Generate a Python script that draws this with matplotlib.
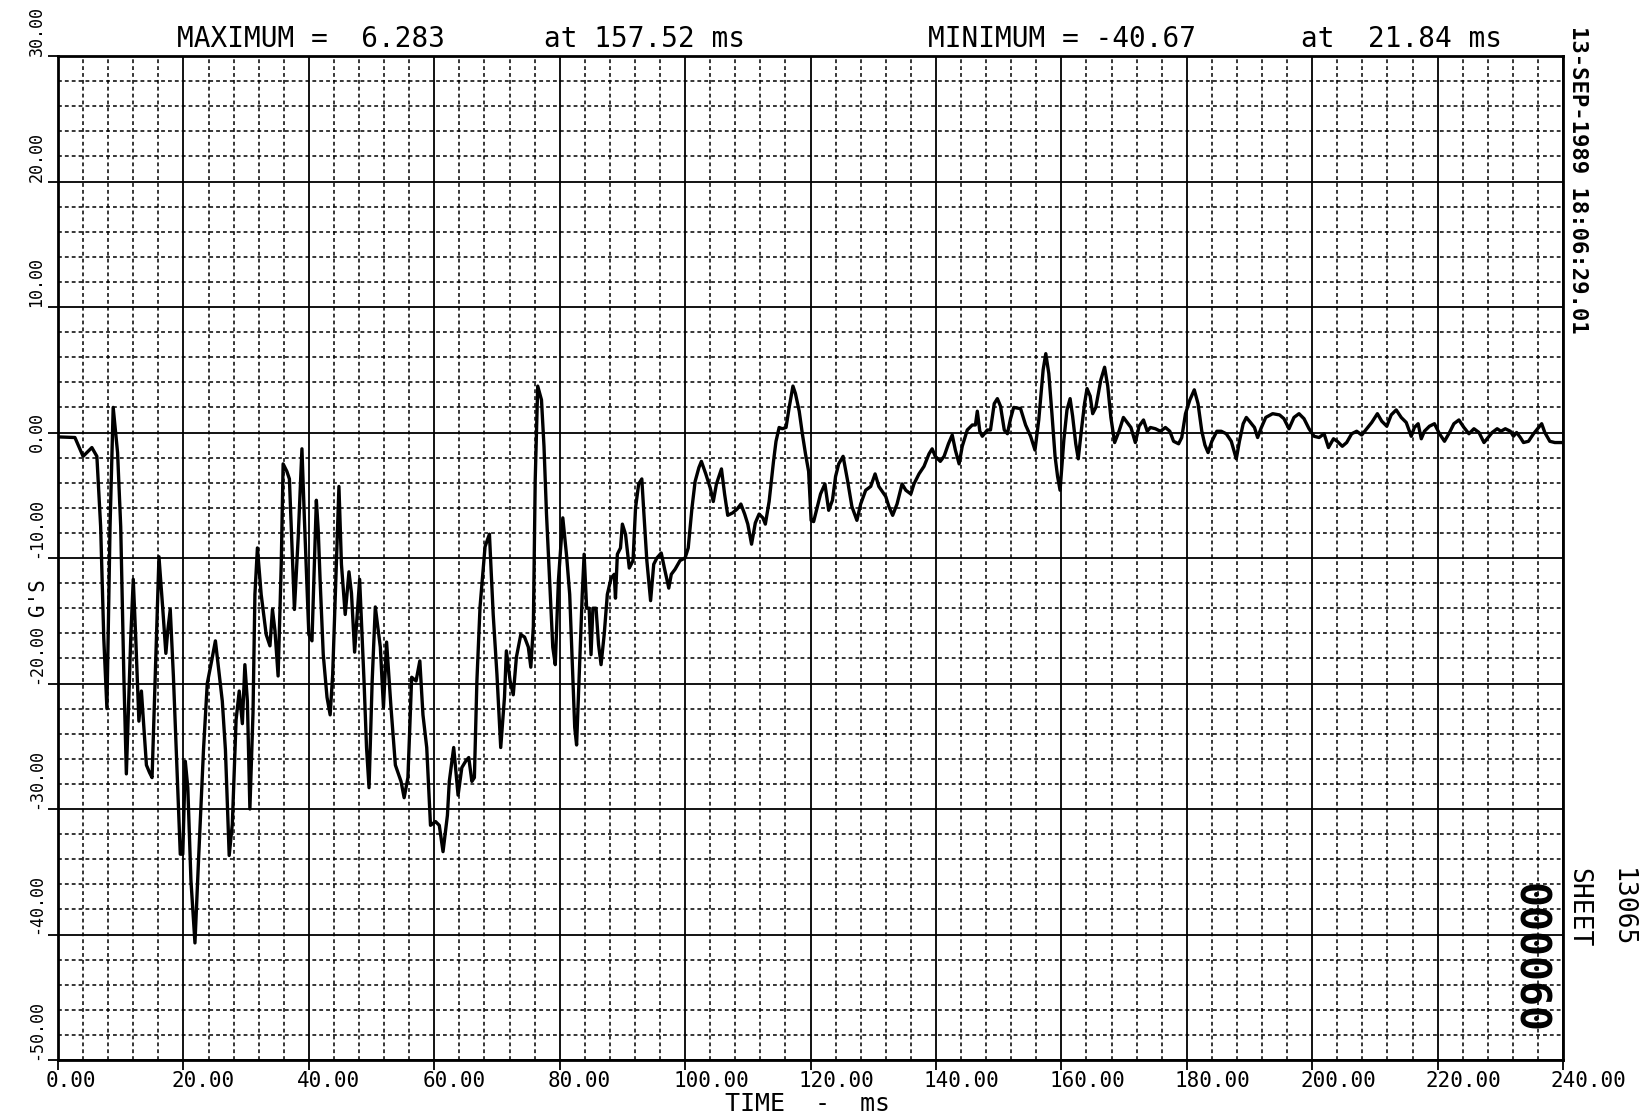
import matplotlib
matplotlib.use("Agg")
import matplotlib.pyplot as plt
import matplotlib.transforms as mtransforms
from matplotlib.ticker import MultipleLocator

# acceleration trace (time in ms, accel in G's)
time_ms = [
    0, 2.7, 4.0, 5.4, 6.2, 6.8, 7.3, 7.8, 8.3, 8.8, 9.5, 10.0, 10.5, 10.9, 11.6, 12.0,
    12.4, 12.9, 13.3, 14.1, 14.6, 15.0, 15.5, 16.1, 16.7, 17.2, 17.5, 17.9, 18.4, 19.1,
    19.5, 19.9, 20.3, 20.7, 21.2, 21.84, 22.4, 23.2, 23.8, 24.5, 25.1, 25.6, 26.2, 26.7,
    27.3, 27.8, 28.4, 28.9, 29.4, 29.8, 30.2, 30.6, 31.1, 31.4, 31.8, 32.4, 33.2, 33.8,
    34.2, 34.6, 35.1, 35.6, 35.9, 36.5, 36.9, 37.3, 37.7, 38.3, 38.9, 39.3, 40.0,
    40.5, 41.2, 41.5, 41.8, 42.3, 42.9, 43.4, 43.8, 44.3, 44.8, 45.2, 45.8, 46.4, 46.8,
    47.3, 48.1, 48.8, 49.2, 49.6, 50.1, 50.6, 51.4, 51.9, 52.4, 53.1, 53.8, 54.7, 55.2,
    55.8, 56.4, 57.1, 57.7, 58.2, 58.8, 59.4, 60.2, 60.8, 61.4, 62.1, 62.4, 63.1, 63.8,
    64.4, 65.0, 65.5, 66.0, 66.4, 66.8, 67.3, 68.1, 68.8, 69.4, 70.0, 70.6, 71.2, 71.5,
    72.1, 72.6, 73.1, 73.8, 74.4, 75.0, 75.4, 75.8, 76.1, 76.5, 77.1, 77.5, 77.9, 78.4,
    78.9, 79.3, 79.8, 80.5, 81.1, 81.6, 82.0, 82.4, 82.7, 83.2, 83.6, 83.9, 84.3, 84.7,
    85.0, 85.3, 85.8, 86.2, 86.6, 87.1, 87.6, 88.2, 88.7, 88.9, 89.2, 89.7, 90.0, 90.5,
    91.1, 91.7, 92.1, 92.6, 93.1, 93.4, 93.9, 94.5, 95.0, 95.5, 96.2, 96.7, 97.4, 97.8,
    98.4, 99.2, 100.0, 100.5, 101.1, 101.6, 102.2, 102.6, 103.3, 104.0, 104.5, 105.0,
    105.8, 106.3, 106.8, 107.6, 108.3, 108.9, 109.5, 110.0, 110.6, 111.2, 111.8, 112.4,
    112.8, 113.4, 114.1, 114.5, 115.0, 115.5, 116.1, 116.6, 117.2, 117.6, 118.2, 118.7,
    119.2, 119.7, 120.1, 120.5, 121.1, 121.6, 122.3, 122.9, 123.5, 124.0, 124.5, 125.2,
    125.9, 126.6, 127.4, 128.0, 128.8, 129.6, 130.3, 130.9, 132.0, 132.5, 133.1, 133.8,
    134.6, 135.2, 136.0, 136.5, 137.3, 138.1, 138.9, 139.4, 139.9, 140.7, 141.3, 142.0,
    142.6, 143.1, 143.7, 144.2, 145.0, 145.8, 146.3, 146.6, 147.0, 147.4, 148.2, 148.7,
    149.3, 149.8, 150.3, 150.9, 151.4, 151.9, 152.4, 153.5, 154.3, 155.1, 155.8, 156.4,
    157.1, 157.52, 158.0, 158.5, 159.0, 159.4, 159.8, 160.4, 160.9, 161.4, 161.8, 162.3,
    162.7, 163.2, 163.7, 164.1, 164.6, 165.0, 165.5, 166.3, 166.9, 167.4, 167.9, 168.5,
    169.2, 169.9, 170.5, 171.1, 171.8, 172.4, 173.1, 173.7, 174.2, 175.0, 175.8, 176.6,
    177.3, 177.9, 178.7, 179.2, 179.8, 180.5, 181.2, 181.8, 182.4, 182.9, 183.4, 184.0,
    184.8, 185.5, 186.3, 187.1, 187.9, 188.4, 189.0, 189.5, 190.0, 190.8, 191.3, 191.9,
    192.6, 193.7, 194.8, 195.5, 196.3, 197.1, 197.9, 198.7, 199.5, 200.3, 201.1, 201.9,
    202.6, 203.4, 204.0, 204.8, 205.5, 206.3, 207.1, 207.9, 208.7, 209.5, 210.4, 211.1,
    211.9, 212.6, 213.4, 214.2, 215.0, 215.8, 216.3, 216.9, 217.4, 217.9, 218.7, 219.5,
    220.3, 221.1, 221.9, 222.6, 223.4, 224.2, 225.0, 225.8, 226.6, 227.4, 227.9, 228.7,
    229.5, 230.1, 230.8, 231.6, 232.1, 232.6, 233.2, 233.7, 234.5, 235.3, 236.1, 236.6,
    237.1, 237.9, 238.7, 239.5, 240.0,
]
accel_g = [
    -0.35, -0.4, -1.9, -1.2, -1.9, -7.5, -16.4, -22.0, -7.5, 2.0, -1.6, -7.5, -19.4, -27.2, -16.4, -11.7,
    -16.4, -23.0, -20.6, -26.5, -27.1, -27.5, -19.4, -9.9, -14.0, -17.6, -15.8, -14.1, -19.4, -28.3,
    -33.6, -33.6, -26.2, -28.3, -35.7, -40.67, -34.2, -25.3, -20.0, -18.2, -16.6, -18.8, -21.4, -25.3,
    -33.7, -31.2, -22.9, -20.6, -23.2, -18.5, -21.4, -30.0, -22.3, -12.9, -9.2, -12.9, -16.1, -17.0,
    -14.1, -15.8, -19.4, -10.5, -2.5, -3.1, -3.7, -9.0, -14.1, -8.4, -1.3, -7.0, -16.1,
    -16.6, -5.4, -7.8, -11.8, -17.7, -21.1, -22.5, -19.3, -11.8, -4.3, -10.5, -14.5, -11.1, -12.8,
    -17.5, -11.7, -19.8, -25.1, -28.3, -19.8, -13.9, -17.1, -21.9, -16.7, -21.9, -26.5, -27.8, -29.1,
    -27.5, -19.5, -19.8, -18.2, -22.5, -25.1, -31.3, -31.0, -31.3, -33.4, -30.5, -27.8, -25.1, -28.9,
    -26.7, -26.2, -25.9, -27.8, -27.5, -19.8, -13.9, -9.1, -8.1, -14.5, -19.3, -25.1, -21.1, -17.4,
    -19.8, -20.9, -17.9, -16.1, -16.3, -17.1, -18.7, -15.5, -3.8, 3.7, 2.6, -1.1, -6.5, -11.8,
    -17.1, -18.5, -11.8, -6.8, -9.8, -12.9, -18.2, -23.5, -24.9, -18.2, -12.9, -9.7, -14.0, -14.0,
    -17.7, -14.0, -14.0, -16.9, -18.5, -16.1, -12.9, -11.6, -11.3, -13.2, -9.7, -9.2, -7.3, -8.1,
    -10.8, -10.2, -6.0, -4.1, -3.7, -6.2, -10.2, -13.4, -10.5, -10.0, -9.6, -10.8, -12.4, -11.3,
    -10.9, -10.2, -10.0, -9.2, -6.0, -3.9, -2.8, -2.3, -3.3, -4.4, -5.5, -4.1,
    -2.9, -4.9, -6.6, -6.4, -6.1, -5.7, -6.5, -7.3, -8.9, -7.2, -6.5, -6.8,
    -7.3, -5.5, -2.3, -0.7, 0.4, 0.3, 0.4, 2.0, 3.7, 3.1, 1.7, -0.1,
    -1.7, -3.1, -7.0, -7.1, -5.9, -4.9, -4.1, -6.2, -5.4, -3.5, -2.5, -1.9,
    -3.8, -5.9, -7.0, -5.7, -4.6, -4.3, -3.3, -4.3, -5.1, -5.9, -6.6, -5.7,
    -4.1, -4.6, -4.9, -4.1, -3.3, -2.7, -1.7, -1.3, -1.9, -2.3, -1.9, -0.9,
    -0.2, -1.4, -2.5, -1.1, 0.2, 0.6, 0.6, 1.7, 0.1, -0.3, 0.2, 0.2,
    2.3, 2.7, 2.1, 0.2, -0.1, 1.1, 2.0, 1.9, 0.6, -0.3, -1.4, 1.0,
    5.0, 6.283, 4.7, 1.5, -1.9, -3.5, -4.6, -0.6, 1.8, 2.7, 1.3, -0.9,
    -2.1, 0.2, 2.3, 3.5, 2.9, 1.5, 2.0, 4.2, 5.2, 3.7, 1.2, -0.8,
    0.1, 1.2, 0.8, 0.4, -0.8, 0.5, 1.0, 0.1, 0.4, 0.3, 0.1, 0.4,
    0.1, -0.7, -0.9, -0.4, 1.5, 2.6, 3.4, 2.3, 0.1, -1.0, -1.6, -0.7,
    0.1, 0.1, -0.1, -0.7, -2.1, -0.7, 0.7, 1.2, 0.9, 0.4, -0.4, 0.4,
    1.2, 1.5, 1.4, 1.1, 0.3, 1.2, 1.5, 1.1, 0.3, -0.3, -0.4, -0.1,
    -1.2, -0.5, -0.7, -1.1, -0.8, -0.1, 0.1, -0.2, 0.3, 0.8, 1.5, 0.9,
    0.5, 1.4, 1.8, 1.2, 0.8, -0.3, 0.4, 0.7, -0.5, 0.1, 0.5, 0.7,
    -0.1, -0.7, 0.0, 0.7, 1.0, 0.4, -0.1, 0.3, 0.0, -0.8, -0.5, 0.0,
    0.3, 0.1, 0.3, 0.1, -0.3, 0.0, -0.4, -0.8, -0.7, -0.1, 0.4, 0.7,
    0.0, -0.7, -0.8, -0.8, -0.8,
]

x_ticks = [0, 20, 40, 60, 80, 100, 120, 140, 160, 180, 200, 220, 240]
y_ticks = [-50, -40, -30, -20, -10, 0, 10, 20, 30]

W, H = 1648, 1120
font = "DejaVu Sans Mono"
plt.rcParams["font.family"] = font

fig = plt.figure(figsize=(W / 100, H / 100), dpi=100)
ax = fig.add_axes([58 / W, 1 - 1060 / H, (1563 - 58) / W, (1060 - 56) / H])

ax.set_xlim(0, 240)
ax.set_ylim(-50, 30)

# plotter paper grid
ax.xaxis.set_minor_locator(MultipleLocator(4))
ax.yaxis.set_minor_locator(MultipleLocator(2))
ax.set_xticks(x_ticks)
ax.set_yticks(y_ticks)
ax.grid(which="major", color="black", lw=1.3, ls="-")
ax.grid(which="minor", color="black", lw=1.1, ls=(0, (2.5, 2.0)))
ax.set_axisbelow(True)
for sp in ax.spines.values():
    sp.set_linewidth(2)

ax.plot(time_ms, accel_g, color="black", lw=2.4, zorder=3)

ax.set_xticklabels(["%.2f" % v for v in x_ticks], fontsize=15, ha="left")
ax.set_yticklabels(["%.2f" % v for v in y_ticks], fontsize=12, rotation=90, va="bottom")
ax.tick_params(axis="x", which="major", length=7, width=1.3, pad=1)
ax.tick_params(axis="y", which="major", length=7, width=1.3, pad=2)
ax.tick_params(which="minor", length=0)
off = mtransforms.ScaledTranslation(-0.12, 0, fig.dpi_scale_trans)
for lab in ax.get_xticklabels():
    lab.set_transform(lab.get_transform() + off)
for lab in ax.get_yticklabels():
    if lab.get_text() == "0.00":
        lab.set_va("center")

# header line
ty = 1 - 39 / H
fig.text(177 / W, ty, "MAXIMUM =  6.283", fontsize=20, va="center")
fig.text(544 / W, ty, "at 157.52 ms", fontsize=20, va="center")
fig.text(928 / W, ty, "MINIMUM = -40.67", fontsize=20, va="center")
fig.text(1301 / W, ty, "at  21.84 ms", fontsize=20, va="center")

# axis titles
fig.text(38 / W, 1 - 597 / H, "G'S", fontsize=15, rotation=90, ha="center", va="center")
fig.text(725 / W, 1 - 1104 / H, "TIME  -  ms", fontsize=18, va="center")

# side annotations
fig.text(1578 / W, 1 - 26 / H, "13-SEP-1989 18:06:29.01", fontsize=16, fontweight="bold",
         rotation=-90, ha="center", va="top")
fig.text(1578 / W, 1 - 868 / H, "SHEET", fontsize=19, rotation=-90, ha="center", va="top")
fig.text(1622 / W, 1 - 868 / H, "13065", fontsize=19, rotation=-90, ha="center", va="top")
fig.text(1529 / W, 1 - 883 / H, "000060", fontsize=30, fontweight="bold",
         rotation=-90, ha="center", va="top")

fig.savefig("out.png", dpi=100, facecolor="white")
